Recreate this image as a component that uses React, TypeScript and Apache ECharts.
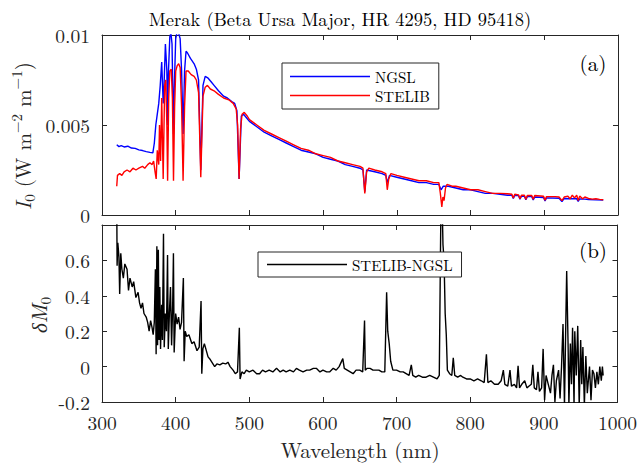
import React, { useEffect, useRef } from "react";
import * as echarts from "echarts";

// ---------- data ----------
const ngslWl = [320,323,326,330,335,340,345,350,355,360,365,369,371,373,375,377,379,381,383,384,386,388,389,390,392,393.5,395,396,397,398,400,402,404,406,408,410,412,414,416,420,425,428,431,434,437,440,444,448,452,458,465,470,476,480,483,486,489,492,496,500,510,520,530,540,550,560,570,580,590,600,610,620,630,640,650,654,656.5,659,670,680,685,687,690,700,710,720,730,740,750,757,760,763,770,780,790,800,810,820,830,840,850,856,858,860,865,867,869,873,875,877,883,885,887,899,901,903,920,924,927,940,944,946,948,955,960,970,980];
const ngslFlux = [0.0039,0.0038,0.00385,0.00378,0.00382,0.00372,0.0037,0.00362,0.00358,0.00352,0.00348,0.00345,0.004,0.005,0.0056,0.0062,0.0072,0.0085,0.0062,0.007,0.0095,0.008,0.005,0.0078,0.0099,0.0101,0.0095,0.007,0.0045,0.007,0.0098,0.0102,0.0101,0.0098,0.008,0.0045,0.008,0.0091,0.009,0.0087,0.0084,0.0081,0.0075,0.0025,0.0072,0.0077,0.0076,0.0074,0.0072,0.0069,0.0066,0.0065,0.0063,0.0062,0.0058,0.002,0.0055,0.0056,0.0054,0.0052,0.0049,0.0046,0.0044,0.0042,0.004,0.0038,0.0036,0.0035,0.0034,0.0032,0.0031,0.003,0.0028,0.0027,0.0026,0.0025,0.0013,0.0025,0.0024,0.0023,0.0022,0.0018,0.0022,0.0021,0.002,0.0019,0.0018,0.0018,0.0017,0.0017,0.0014,0.0016,0.0016,0.0015,0.0014,0.0014,0.0013,0.0012,0.0012,0.00115,0.0011,0.0011,0.00092,0.0011,0.00108,0.00088,0.00105,0.00104,0.00085,0.00102,0.00102,0.00084,0.001,0.00097,0.00078,0.00095,0.00093,0.00075,0.00092,0.0009,0.0009,0.00076,0.00089,0.00088,0.00086,0.00084,0.00083];

const stelibWl = [320,321,324,327,330,334,338,342,346,350,355,358,362,365,368,370,372,373.5,375,377,378,379.5,381,383,385,386.5,388,389,390.5,392,394,395.5,397,398.5,400,402,404,406,408,410,412,414,417,421,425,428,431,434,437,440,443,447,452,458,465,472,478,482,484,486,488,490,493,497,500,510,520,530,540,550,560,570,580,590,600,610,620,630,640,650,654,656.5,659,662,670,680,685,687,689,692,700,710,720,730,740,750,757,759,761,762.5,764,766,768,775,780,790,800,810,820,830,840,850,856,858,860,865,867,869,873,875,877,883,885,887,899,901,903,915,920,924,927,932,935,938,941,944,946,948,952,955,960,965,970,975,980];
const stelibFlux = [0.0016,0.0022,0.0023,0.0022,0.0024,0.0025,0.0024,0.0026,0.0025,0.0026,0.0027,0.0026,0.0028,0.0029,0.0028,0.003,0.0024,0.002,0.0036,0.0028,0.005,0.003,0.0065,0.002,0.0072,0.0075,0.005,0.0019,0.0065,0.008,0.0081,0.0065,0.0019,0.006,0.008,0.0083,0.0084,0.0082,0.006,0.0019,0.006,0.008,0.008,0.0078,0.0077,0.0075,0.0068,0.0021,0.0066,0.0071,0.0072,0.007,0.0069,0.0067,0.0065,0.0064,0.0062,0.0059,0.005,0.002,0.0048,0.0056,0.0057,0.0055,0.0053,0.005,0.0047,0.0045,0.0043,0.0041,0.0039,0.0037,0.0036,0.0034,0.0033,0.0032,0.003,0.0029,0.0028,0.0027,0.0026,0.0012,0.0024,0.0026,0.0025,0.0024,0.0023,0.0014,0.002,0.0023,0.0022,0.0021,0.002,0.0019,0.0019,0.0018,0.0018,0.0012,0.00045,0.001,0.0008,0.0015,0.0017,0.0016,0.0016,0.0015,0.0014,0.0014,0.0013,0.0012,0.0012,0.00118,0.00115,0.00095,0.00115,0.00112,0.0009,0.0011,0.0011,0.00088,0.00108,0.00108,0.00088,0.00108,0.00104,0.00082,0.00102,0.00102,0.001,0.0008,0.001,0.00105,0.0009,0.0011,0.00095,0.0011,0.0008,0.00105,0.0009,0.001,0.00092,0.00088,0.0009,0.00087,0.00085];

const diffWl = [320,320.5,321.5,323,324,325.5,327,329,331,334,336,338,341,343,346,349,351,353,355,357,360,362,364,366,368,369.5,371,372.5,373.5,374.5,375.5,376.5,377.5,378.5,379.5,381,382,383.5,384.5,386,387.5,389,390,391.5,393,394.5,396,397,398,400,402,404,406,408,410.5,411.5,413,415,418,422,425,429,432,434.5,435.5,437,439,441,444,447,450,453,456,460,464,468,471,474,478,481,484,486.5,487.5,490,493,496,500,505,510,514,518,522,527,532,537,542,546,550,555,560,564,568,573,578,582,587,591,596,600,605,609,614,618,622,627,629,633,637,641,645,650,654,656.5,657.5,660,664,668,672,676,680,684,686.5,688,690,692,695,700,705,709,713,717,720,722,726,730,735,740,745,750,755,758,759.5,760.5,762,763,764.5,766,767.5,769,772,775,777,779,783,787,790,795,800,805,810,815,819,822,824,828,833,838,842,845,847,851,854,856,860,863,865,867,870,874,877,880,883,885,887,890,892,894,897,899,901,903,906,909,911,913,915,917,920,922,924,926,928,930,931,933,934,936,937.5,939,941,942,944,946,948,950,951.5,953,955,957,959,962,964,966,968,970,972,974,976,978,979.5,980.5];
const diffVal = [0.95,0.57,0.7,0.62,0.41,0.64,0.55,0.5,0.58,0.55,0.43,0.5,0.45,0.48,0.39,0.42,0.36,0.33,0.36,0.3,0.28,0.25,0.2,0.26,0.22,0.18,0.25,0.55,0.07,0.68,0.12,0.66,0.15,0.45,0.1,0.35,0.15,0.75,0.11,0.3,0.2,0.63,0.1,0.3,0.45,0.12,0.35,0.64,0.08,0.3,0.24,0.28,0.21,0.25,0.5,0.03,0.2,0.17,0.18,0.13,0.14,0.09,0.11,0.37,-0.04,0.1,0.13,0.1,0.055,0.04,0.02,0,0.015,0.01,0.02,0.015,0.025,0,-0.02,-0.04,-0.03,0.22,-0.07,-0.03,-0.04,-0.02,-0.03,-0.02,-0.04,-0.04,-0.02,-0.03,-0.02,-0.03,-0.01,-0.03,-0.02,-0.03,-0.02,-0.03,-0.01,-0.02,-0.03,-0.02,-0.02,-0.01,-0.01,-0.03,-0.02,-0.03,-0.03,-0.01,-0.02,0,0.045,-0.01,-0.02,-0.03,-0.04,-0.02,-0.02,-0.03,0.26,-0.02,-0.01,-0.01,-0.02,-0.02,-0.02,-0.03,-0.03,0.42,0.2,0.13,0.03,-0.02,-0.02,-0.03,-0.03,-0.04,-0.05,0.01,-0.05,-0.06,-0.05,-0.06,-0.06,-0.05,-0.06,-0.07,-0.05,0.6,1.0,0.9,0.69,0.6,0.3,0.18,-0.02,-0.04,-0.05,0.05,-0.05,-0.06,-0.05,-0.06,-0.07,-0.07,-0.08,-0.07,-0.08,-0.09,0.07,-0.09,-0.08,-0.1,-0.1,-0.08,-0.02,-0.1,-0.11,-0.02,-0.11,-0.1,-0.12,0.005,-0.12,-0.1,-0.08,-0.12,-0.11,-0.1,0.01,-0.12,-0.13,-0.03,-0.14,-0.12,0.1,-0.19,-0.05,-0.1,-0.15,-0.05,0.01,-0.2,-0.08,-0.02,-0.18,0,0.24,-0.22,0.3,0.54,0.1,-0.22,0.13,-0.1,0.22,-0.22,0.2,-0.05,0.23,-0.22,0.15,-0.1,0.11,-0.22,0.06,-0.15,0,-0.19,-0.02,-0.04,-0.12,-0.03,-0.1,0,-0.08,0,-0.05];

const xTicks = { min: 300, max: 1000, interval: 100 };
const fluxTicks = { min: 0, max: 0.01, interval: 0.005 };
const diffTicks = { min: -0.2, max: 0.8, interval: 0.2 };

const titleText = "Merak (Beta Ursa Major, HR 4295, HD 95418)";
const seriesNames = ["NGSL", "STELIB", "STELIB-NGSL"];

const FONT = "Latin Modern Roman";
const AX = "#262626";
const LEGEND_ICON = "path://M0 0H80V1.5H0Z";

function pairs(xs: number[], ys: number[]) {
  return xs.map((x, i) => [x, ys[i]]);
}

export default function App() {
  const ref = useRef<HTMLDivElement>(null);
  useEffect(() => {
    document.body.style.margin = "0";
    if (!ref.current) return;
    const chart = echarts.init(ref.current, null, { renderer: "svg" });
    const grids = [
      { left: 102, top: 35, width: 516, height: 180 },
      { left: 102, top: 225, width: 516, height: 177 },
    ];
    const baseX = (gi: number, pos: string, labels: boolean) => ({
      type: "value",
      gridIndex: gi,
      position: pos,
      ...xTicks,
      axisLine: { onZero: false, lineStyle: { color: AX, width: 1 } },
      axisTick: { inside: true, length: 5, lineStyle: { color: AX } },
      axisLabel: {
        show: labels,
        fontSize: 19.5,
        fontFamily: FONT,
        color: AX,
        margin: 10,
        formatter: (v: number) => String(v),
      },
      splitLine: { show: false },
    });
    const baseY = (gi: number, pos: string, labels: boolean, t: any, fmt?: any) => ({
      type: "value",
      gridIndex: gi,
      position: pos,
      ...t,
      axisLine: { show: true, onZero: false, lineStyle: { color: AX, width: 1 } },
      axisTick: { show: true, inside: true, length: 5, lineStyle: { color: AX } },
      axisLabel: { show: labels, fontSize: 19.5, fontFamily: FONT, color: AX, margin: 12, formatter: fmt },
      splitLine: { show: false },
    });
    const diffFmt = (v: number) => {
      if (Math.abs(v - 0.8) < 1e-9) return "";
      const r = Math.round(v * 10) / 10;
      return String(r);
    };
    const legendText = { fontSize: 15, fontFamily: FONT, color: "#000" };
    const txt = (text: string, x: number, y: number, size: number, fill = "#000") => ({
      type: "text",
      x,
      y,
      style: { text, fontFamily: FONT, fontSize: size, fill, align: "center", verticalAlign: "middle" },
    });
    chart.setOption({
      animation: false,
      backgroundColor: "#fff",
      grid: grids,
      xAxis: [baseX(0, "bottom", false), baseX(0, "top", false), baseX(1, "bottom", true), baseX(1, "top", false)],
      yAxis: [
        baseY(0, "left", true, fluxTicks),
        baseY(0, "right", false, fluxTicks),
        baseY(1, "left", true, diffTicks, diffFmt),
        baseY(1, "right", false, diffTicks),
      ],
      legend: [
        {
          data: [seriesNames[0], seriesNames[1]],
          orient: "vertical",
          left: 282,
          top: 63,
          icon: LEGEND_ICON,
          itemWidth: 80,
          itemHeight: 14,
          itemGap: 4,
          padding: [6, 9, 6, 8],
          borderColor: AX,
          borderWidth: 1,
          backgroundColor: "#fff",
          textStyle: legendText,
        },
        {
          data: [seriesNames[2]],
          orient: "vertical",
          left: 258,
          top: 252,
          icon: LEGEND_ICON,
          itemWidth: 80,
          itemHeight: 14,
          padding: [5, 9, 5, 9],
          borderColor: AX,
          borderWidth: 1,
          backgroundColor: "#fff",
          textStyle: legendText,
        },
      ],
      series: [
        {
          name: seriesNames[0],
          type: "line",
          xAxisIndex: 0,
          yAxisIndex: 0,
          data: pairs(ngslWl, ngslFlux),
          symbol: "none",
          clip: true,
          lineStyle: { color: "#0000ff", width: 1.4 },
          itemStyle: { color: "#0000ff" },
        },
        {
          name: seriesNames[1],
          type: "line",
          xAxisIndex: 0,
          yAxisIndex: 0,
          data: pairs(stelibWl, stelibFlux),
          symbol: "none",
          clip: true,
          lineStyle: { color: "#ff0000", width: 1.4 },
          itemStyle: { color: "#ff0000" },
        },
        {
          name: seriesNames[2],
          type: "line",
          xAxisIndex: 2,
          yAxisIndex: 2,
          data: pairs(diffWl, diffVal),
          symbol: "none",
          clip: true,
          lineStyle: { color: "#000", width: 1.4 },
          itemStyle: { color: "#000" },
        },
      ],
      graphic: [
        txt(titleText, 340, 18, 18.5),
        txt("Wavelength (nm)", 360, 449, 21, AX),
        txt("(a)", 593, 62, 21),
        txt("(b)", 593, 249, 21),
        {
          type: "text",
          x: 22,
          y: 136,
          rotation: Math.PI / 2,
          style: {
            text: "{i|I}{s|0}{n| (W m}{p|−2}{n| m}{p|−1}{n|)}",
            align: "center",
            verticalAlign: "middle",
            fill: AX,
            rich: {
              i: { fontFamily: FONT, fontStyle: "italic", fontSize: 21, lineHeight: 28, fill: AX },
              n: { fontFamily: FONT, fontSize: 21, lineHeight: 28, fill: AX },
              s: { fontFamily: FONT, fontSize: 15, lineHeight: 28, verticalAlign: "bottom", fill: AX },
              p: { fontFamily: FONT, fontSize: 15, lineHeight: 28, verticalAlign: "top", fill: AX },
            },
          },
        },
        {
          type: "text",
          x: 38,
          y: 315,
          rotation: Math.PI / 2,
          style: {
            text: "{i|δM}{s|0}",
            align: "center",
            verticalAlign: "middle",
            fill: AX,
            rich: {
              i: { fontFamily: FONT, fontStyle: "italic", fontSize: 21, lineHeight: 28, fill: AX },
              s: { fontFamily: FONT, fontSize: 15, lineHeight: 28, verticalAlign: "bottom", fill: AX },
            },
          },
        },
      ],
    });
    return () => chart.dispose();
  }, []);
  return <div ref={ref} style={{ width: 640, height: 466 }} />;
}
